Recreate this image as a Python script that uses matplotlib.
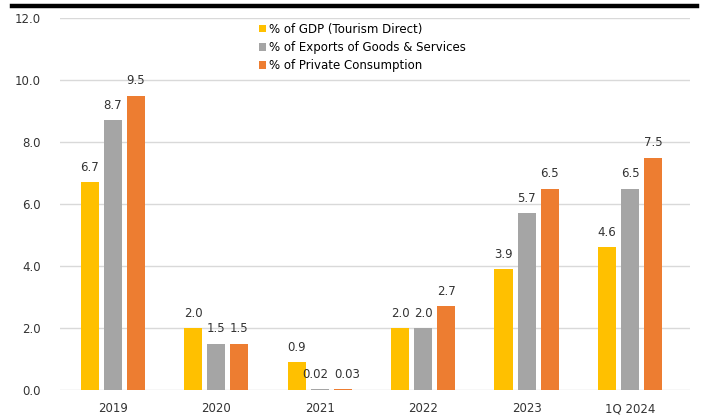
import matplotlib
matplotlib.use("Agg")
import matplotlib.pyplot as plt
import numpy as np
from matplotlib.lines import Line2D

categories = ["2019", "2020", "2021", "2022", "2023", "1Q 2024"]
gdp_share = [6.7, 2.0, 0.9, 2.0, 3.9, 4.6]
exports_share = [8.7, 1.5, 0.02, 2.0, 5.7, 6.5]
consumption_share = [9.5, 1.5, 0.03, 2.7, 6.5, 7.5]
labels_gdp = ["6.7", "2.0", "0.9", "2.0", "3.9", "4.6"]
labels_exp = ["8.7", "1.5", "0.02", "2.0", "5.7", "6.5"]
labels_con = ["9.5", "1.5", "0.03", "2.7", "6.5", "7.5"]
series_names = ["% of GDP (Tourism Direct)",
                "% of Exports of Goods & Services",
                "% of Private Consumption"]

colors = ["#FFC000", "#A5A5A5", "#ED7D31"]
text_color = "#333333"

fig = plt.figure(figsize=(7.02, 4.18), dpi=100)
ax = fig.add_axes([60 / 702, 1 - 390 / 418, 630 / 702, 372 / 418])

x = np.arange(len(categories))
w = 0.175
step = 0.223
series = [(gdp_share, labels_gdp), (exports_share, labels_exp),
          (consumption_share, labels_con)]
# nudge the tiny 2021 labels apart so they just touch, as in the original
nudge = [0, -3, 3]
for i, (vals, labs) in enumerate(series):
    bars = ax.bar(x + (i - 1) * step, vals, width=w, color=colors[i],
                  label=series_names[i], zorder=3)
    anns = ax.bar_label(bars, labels=labs, padding=6, fontsize=8.5,
                        color=text_color)
    ox, oy = anns[2].xyann
    anns[2].xyann = (ox + nudge[i], oy)

ax.set_xlim(-0.51, 5.58)
ax.set_ylim(0, 12)
ax.set_yticks(np.arange(0, 12.1, 2))
ax.set_yticklabels(["%.1f" % v for v in np.arange(0, 12.1, 2)])
ax.set_xticks(x)
ax.set_xticklabels(categories)
ax.tick_params(axis="both", length=0, labelsize=8.5, colors=text_color)
ax.tick_params(axis="y", pad=14)
ax.tick_params(axis="x", pad=9)
ax.grid(axis="y", color="#D9D9D9", linewidth=1, zorder=0)
for s in ax.spines.values():
    s.set_visible(False)

fig.legend(loc="upper left", bbox_to_anchor=(254 / 702, 1 - 18 / 418),
           frameon=False, fontsize=8.5, handlelength=0.6, handleheight=0.6,
           handletextpad=0.3, labelspacing=0.45, borderaxespad=0)

# thick rule under the (cropped) title
fig.add_artist(Line2D([12 / 702, 697 / 702], [1 - 6 / 418, 1 - 6 / 418],
                      color="black", linewidth=3.2, transform=fig.transFigure))

fig.savefig("out.png", dpi=100)
